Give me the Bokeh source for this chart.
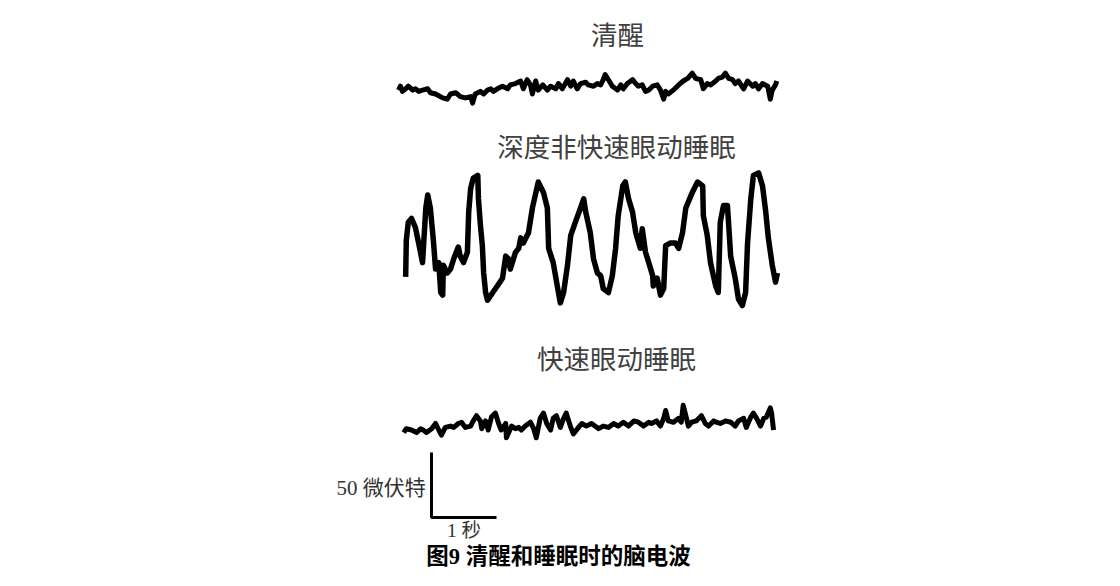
from bokeh.plotting import figure
from bokeh.models import Range1d
from bokeh.core.properties import value
from bokeh.embed import file_html
from bokeh.resources import INLINE

# ---- data: time (s) and amplitude (µV) ----
awake_t = [0.00, 0.03, 0.06, 0.11, 0.15, 0.22, 0.26, 0.31, 0.37, 0.45, 0.49, 0.57, 0.68, 0.75, 0.80, 0.88, 0.95,
           1.03, 1.11, 1.14, 1.18, 1.26, 1.31, 1.37, 1.42, 1.46, 1.52, 1.60, 1.68, 1.72, 1.80, 1.88, 1.92, 1.98,
           2.03, 2.06, 2.11, 2.15, 2.22, 2.29, 2.34, 2.42, 2.46, 2.52, 2.60, 2.65, 2.69, 2.75, 2.80, 2.88, 2.92,
           3.00, 3.06, 3.11, 3.15, 3.18, 3.23, 3.29, 3.37, 3.42, 3.46, 3.52, 3.60, 3.65, 3.69, 3.75, 3.80, 3.85,
           3.91, 3.98, 4.03, 4.08, 4.11, 4.15, 4.23, 4.31, 4.38, 4.45, 4.52, 4.57, 4.65, 4.69, 4.75, 4.80, 4.88,
           4.92, 4.98, 5.03, 5.08, 5.14, 5.18, 5.23, 5.31, 5.37, 5.45, 5.49, 5.54, 5.60, 5.68, 5.72, 5.75, 5.80, 5.82]
awake_uv = [-2, 1, -3, -1, 1, -2, -1, -3, -2, -1, -4, -5, -8, -9, -5, -4, -7,
            -8, -7, -12, -5, -3, -5, -2, -1, -3, -1, 1, -1, 2, 3, 5, -1, 6,
            2, -5, 5, -2, 2, -2, 1, -1, 3, -1, 6, 1, 5, -1, 3, 4, 2,
            1, 3, 2, 6, 10, 6, 1, -2, 2, -1, 3, 6, 3, 1, 2, -3, -2,
            1, 2, -2, -9, -3, -5, -2, 2, 5, 7, 11, 7, 6, -1, 3, 2, 5,
            7, 8, 11, 7, 6, 3, 5, -1, 5, 1, 3, -1, 3, 1, -9, -2, 2, 5]

deep_t = [0.11, 0.12, 0.15, 0.20, 0.26, 0.31, 0.35, 0.37, 0.42, 0.45, 0.49, 0.54, 0.57, 0.62, 0.65, 0.68, 0.69,
          0.75, 0.80, 0.85, 0.92, 0.95, 1.00, 1.06, 1.08, 1.11, 1.15, 1.22, 1.23, 1.26, 1.29, 1.31, 1.34, 1.37,
          1.45, 1.52, 1.60, 1.65, 1.69, 1.72, 1.80, 1.85, 1.88, 1.92, 2.00, 2.06, 2.15, 2.23, 2.29, 2.31, 2.38,
          2.45, 2.49, 2.54, 2.60, 2.65, 2.72, 2.80, 2.85, 2.88, 2.95, 3.00, 3.06, 3.11, 3.15, 3.23, 3.29, 3.34,
          3.38, 3.45, 3.49, 3.54, 3.60, 3.65, 3.72, 3.75, 3.80, 3.85, 3.91, 3.92, 3.98, 4.03, 4.08, 4.11, 4.18,
          4.26, 4.31, 4.37, 4.42, 4.52, 4.60, 4.68, 4.69, 4.75, 4.80, 4.88, 4.92, 4.95, 5.00, 5.06, 5.08, 5.11,
          5.18, 5.23, 5.29, 5.34, 5.37, 5.42, 5.46, 5.54, 5.60, 5.65, 5.69, 5.75, 5.80, 5.83]
deep_uv = [-28, 0, 14, 17, 10, -2, -12, -17, 25, 35, 25, -2, -22, -17, -40, -42, -19,
           -25, -22, -14, -5, -12, -17, -9, 22, 40, 48, 50, 32, 12, -4, -25, -40, -46,
           -40, -35, -29, -12, -14, -22, -9, -6, 2, -2, 6, 25, 45, 37, 25, -6, -17,
           -37, -48, -40, -19, 4, 14, 25, 32, 22, 6, -14, -25, -27, -37, -40, -27, -6,
           19, 42, 45, 32, 22, 6, -6, 9, -9, -17, -27, -35, -29, -42, -37, -4, -2,
           -2, -6, 6, 25, 37, 45, 42, 19, 4, -17, -35, -40, 14, 27, 27, 12, -12,
           -29, -45, -50, -40, -2, 32, 50, 52, 42, 22, 2, -19, -32, -25]

rem_t = [0.08, 0.12, 0.20, 0.28, 0.34, 0.38, 0.43, 0.51, 0.57, 0.62, 0.66, 0.72, 0.80, 0.85, 0.92, 0.97,
         1.03, 1.11, 1.15, 1.20, 1.26, 1.28, 1.34, 1.38, 1.43, 1.49, 1.54, 1.58, 1.65, 1.66, 1.74, 1.80, 1.85,
         1.89, 1.95, 2.03, 2.08, 2.12, 2.18, 2.23, 2.28, 2.34, 2.38, 2.43, 2.49, 2.54, 2.58, 2.65, 2.69, 2.77,
         2.82, 2.89, 2.97, 3.08, 3.15, 3.23, 3.31, 3.38, 3.46, 3.54, 3.62, 3.69, 3.77, 3.85, 3.89, 3.97, 4.03,
         4.08, 4.11, 4.15, 4.23, 4.31, 4.35, 4.38, 4.42, 4.46, 4.51, 4.58, 4.66, 4.72, 4.77, 4.85, 4.89, 4.95,
         5.03, 5.11, 5.18, 5.23, 5.31, 5.35, 5.42, 5.46, 5.51, 5.57, 5.62, 5.66, 5.72, 5.74, 5.77]
rem_uv = [-7, -4, -5, -7, -4, -5, -7, -4, 0, -5, -9, -3, -2, -3, 0, 1,
          -3, -2, 2, 6, 2, -4, 2, -5, 5, 8, 0, -5, 0, -11, -2, -4, -3,
          -5, -2, 1, -4, -11, 4, 8, 0, -5, 4, 6, -3, 4, 8, -3, -8, -3,
          0, -2, 0, -4, -2, -3, 0, -2, 1, -2, 2, 1, -2, 1, 0, 2, -2,
          4, 10, 2, 1, 4, 1, 14, 6, -2, 1, 2, 6, 0, -2, 2, 1, 0,
          2, 1, -2, 2, 4, -3, 5, 8, 4, -2, 4, 5, 12, 8, -5]

titles = ["清醒", "深度非快速眼动睡眠", "快速眼动睡眠"]
scale_uv = 50      # µV
scale_s = 1        # s
scale_v_label = "50 微伏特"
scale_t_label = "1 秒"
caption = "图9 清醒和睡眠时的脑电波"

# ---- layout (µV / s units) ----
PX_S = 65.0       # pixels per second
PX_UV = 1.3       # pixels per µV
W, H = 1120, 586
X0 = 398          # pixel where t = 0

def ty(py):  # pixel-from-top to µV-space
    return (H - py) / PX_UV

def tx(px):
    return (px - X0) / PX_S

p = figure(width=W, height=H, output_backend="svg", toolbar_location=None,
           x_range=Range1d(tx(0), tx(W)), y_range=Range1d(0, H / PX_UV),
           min_border=0, outline_line_color=None)
p.axis.visible = False
p.grid.visible = False
p.background_fill_color = "white"
p.border_fill_color = "white"

offsets = [ty(87), ty(240), ty(423)]
widths = [5, 5.5, 5]
series = [(awake_t, awake_uv), (deep_t, deep_uv), (rem_t, rem_uv)]
for (t, v), off, lw in zip(series, offsets, widths):
    p.line(t, [u + off for u in v], line_color="black", line_width=lw, line_join="round")

# titles
title_pos = [(tx(617), ty(33)), (tx(616), ty(145)), (tx(616), ty(357))]
for txt, (x, y) in zip(titles, title_pos):
    p.text([x], [y], text=[txt], text_font=value("Noto Sans CJK SC"), text_font_size="26.5px",
           text_color="#404040", text_align="center", text_baseline="middle")

# scale bar
bx, by = tx(431), ty(517)
p.line([bx, bx, bx + scale_s], [by + scale_uv, by, by], line_color="black", line_width=3)
p.text([bx - 0.09], [by + scale_uv * 0.45], text=[scale_v_label],
       text_font=value("Liberation Serif, Noto Sans CJK SC"), text_font_size="21px",
       text_color="#333333", text_align="right", text_baseline="middle")
p.text([bx + scale_s / 2], [ty(530)], text=[scale_t_label],
       text_font=value("Liberation Serif, Noto Sans CJK SC"), text_font_size="19.5px",
       text_color="#333333", text_align="center", text_baseline="middle")
p.text([tx(558)], [ty(556)], text=[caption],
       text_font=value("Liberation Serif, Noto Sans CJK SC"), text_font_size="22.5px",
       text_font_style="bold", text_color="black", text_align="center", text_baseline="middle")

open("out.html", "w").write(file_html(p, INLINE))
